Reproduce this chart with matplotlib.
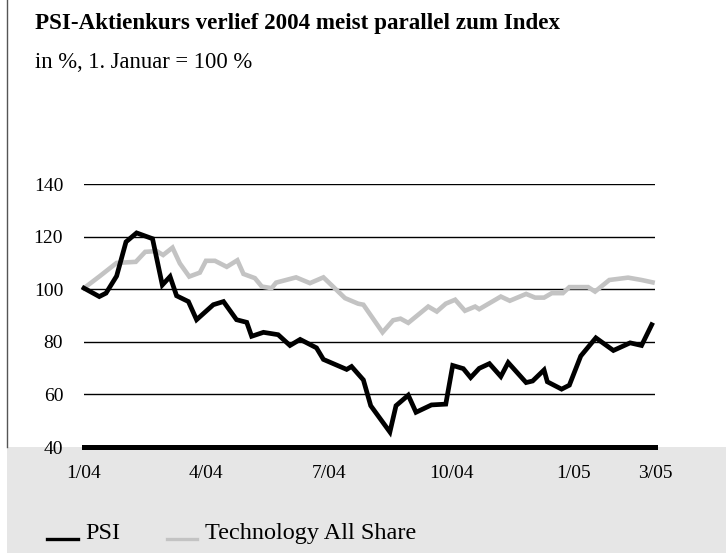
import matplotlib
matplotlib.use("Agg")
import matplotlib.pyplot as plt
from matplotlib.lines import Line2D
from matplotlib.patches import Rectangle

# x positions in months since 1 Jan 2004
psi_x = [0.0, 0.375, 0.54, 0.80, 1.03, 1.29, 1.68, 1.92, 2.11, 2.27, 2.56, 2.76, 3.17, 3.42,
         3.74, 3.99, 4.11, 4.40, 4.76, 5.05, 5.30, 5.70, 5.87, 6.44, 6.56, 6.85, 7.03, 7.50,
         7.65, 7.95, 8.14, 8.52, 8.87, 9.04, 9.30, 9.48, 9.69, 9.94, 10.22, 10.40, 10.84,
         11.00, 11.28, 11.36, 11.71, 11.90, 12.18, 12.55, 12.98, 13.39, 13.67, 13.92]
psi_y = [100.4, 97.2, 98.5, 105.0, 118.0, 121.4, 119.2, 101.6, 104.8, 97.5, 95.3, 88.4, 94.1,
         95.3, 88.4, 87.4, 82.1, 83.6, 82.7, 78.6, 80.9, 77.7, 73.3, 69.5, 70.6, 65.5, 55.7,
         45.7, 55.7, 59.7, 53.2, 56.0, 56.3, 71.0, 69.8, 66.4, 69.9, 71.7, 66.8, 72.1, 64.5,
         65.1, 69.3, 64.8, 62.0, 63.5, 74.6, 81.5, 76.7, 79.6, 78.6, 86.5]

tech_x = [0.0, 0.39, 0.80, 1.27, 1.50, 1.78, 1.94, 2.17, 2.35, 2.58, 2.84, 2.99, 3.21, 3.50,
          3.76, 3.91, 4.19, 4.36, 4.60, 4.71, 5.20, 5.54, 5.87, 6.40, 6.72, 6.85, 7.32, 7.58,
          7.76, 7.95, 8.44, 8.65, 8.87, 9.10, 9.34, 9.59, 9.69, 10.22, 10.44, 10.84, 11.06,
          11.28, 11.47, 11.74, 11.90, 12.36, 12.53, 12.88, 13.34, 13.67, 13.94]
tech_y = [100.4, 105.0, 110.0, 110.4, 114.2, 114.5, 113.0, 115.8, 109.8, 104.8, 106.3, 110.8,
          110.8, 108.5, 111.0, 105.8, 104.2, 101.0, 100.4, 102.5, 104.5, 102.3, 104.5, 96.6,
          94.5, 94.1, 83.6, 88.2, 88.8, 87.2, 93.4, 91.5, 94.5, 96.0, 91.8, 93.4, 92.4, 97.2,
          95.6, 98.2, 96.8, 96.8, 98.5, 98.5, 100.8, 100.8, 99.1, 103.5, 104.4, 103.5, 102.6]

x_ticks = [0, 3, 6, 9, 12, 14]
x_labels = ["1/04", "4/04", "7/04", "10/04", "1/05", "3/05"]
y_ticks = [40, 60, 80, 100, 120, 140]

title = "PSI-Aktienkurs verlief 2004 meist parallel zum Index"
subtitle = "in %, 1. Januar = 100 %"
series_names = ["PSI", "Technology All Share"]

W, H = 726, 553
plt.rcParams['font.family'] = ['Liberation Serif', 'DejaVu Serif']
fig = plt.figure(figsize=(W / 100, H / 100), dpi=100)
fig.patch.set_facecolor("white")

def fx(px):
    return px / W

def fy(py):
    return 1 - py / H

# gray band at the bottom
fig.patches.append(Rectangle((fx(7), 0), 1 - fx(7), fy(447), transform=fig.transFigure,
                             facecolor="#e6e6e6", edgecolor="none", zorder=-5))
# left vertical rule
fig.add_artist(Line2D([fx(7), fx(7)], [fy(447), 1], transform=fig.transFigure,
                      color="#555555", lw=1, zorder=-4))

ax = fig.add_axes([fx(84), fy(447), fx(655) - fx(84), fy(184) - fy(447)])
ax.set_zorder(2)
ax.set_facecolor("none")
ax.set_xlim(0, 14)
ax.set_ylim(40, 140)
for s in ax.spines.values():
    s.set_visible(False)

for v in y_ticks[1:]:
    ax.axhline(v, color="black", lw=1.0, zorder=1)
ax.axhline(40, color="black", lw=3.6, zorder=3, clip_on=False)

ax.plot(tech_x, tech_y, color="#c3c3c3", lw=3.3, solid_joinstyle="miter", zorder=2, clip_on=False)
ax.plot(psi_x, psi_y, color="black", lw=3.4, solid_joinstyle="miter", zorder=2, clip_on=False)

ax.set_yticks(y_ticks)
ax.set_yticklabels([str(v) for v in y_ticks])
ax.set_xticks(x_ticks)
ax.set_xticklabels(x_labels)
ax.tick_params(axis="y", length=0, pad=15, labelsize=14)
ax.tick_params(axis="x", length=0, pad=13, labelsize=14)

fig.text(fx(35), fy(29.5), title, fontsize=16.6, fontweight="bold", va="baseline", ha="left")
fig.text(fx(35), fy(68), subtitle, fontsize=16.3, va="baseline", ha="left")

# legend
fig.add_artist(Line2D([fx(47), fx(78)], [fy(539), fy(539)], transform=fig.transFigure,
                      color="black", lw=2.4))
fig.text(fx(85), fy(539), series_names[0], fontsize=17.5, va="baseline", ha="left")
fig.add_artist(Line2D([fx(167), fx(197)], [fy(539), fy(539)], transform=fig.transFigure,
                      color="#c3c3c3", lw=2.4))
fig.text(fx(205), fy(539), series_names[1], fontsize=17.5, va="baseline", ha="left")

fig.savefig("out.png", dpi=100)
